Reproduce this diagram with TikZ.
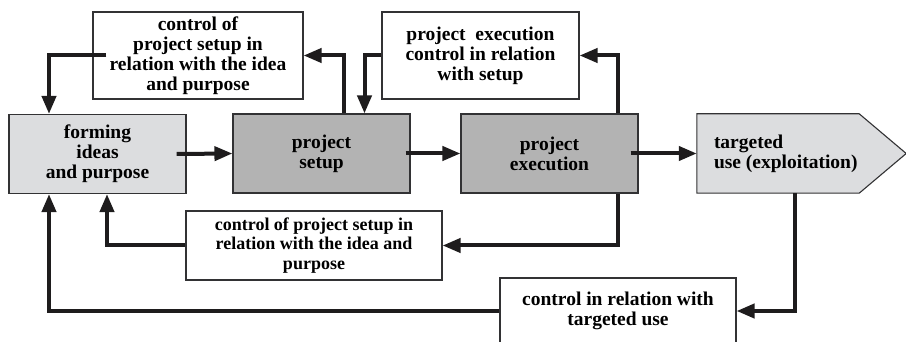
\documentclass[tikz,border=0pt]{standalone}
\usepackage{fontspec}
\setmainfont{Liberation Serif}
\usetikzlibrary{arrows.meta}
\definecolor{lightg}{RGB}{220,221,223}
\definecolor{darkg}{RGB}{179,179,179}
\definecolor{ink}{RGB}{30,28,29}
\definecolor{boxc}{RGB}{50,50,52}
\begin{document}
\begin{tikzpicture}[x=1pt,y=-1pt,
  txt/.style={inner sep=0pt, align=center, font=\bfseries\fontsize{19.5pt}{20pt}\selectfont},
  smalltxt/.style={font=\bfseries\fontsize{18pt}{19.5pt}\selectfont},
  box/.style={txt, draw=boxc, line width=1.1pt, fill=white},
  conn/.style={draw=ink, line width=4pt, line join=miter, -{Triangle[length=18pt,width=14pt]}}]
\useasboundingbox (0,0) rectangle (906,342);
\clip (0,0) rectangle (906,342);
% main boxes
\node[box, fill=lightg, minimum width=177pt, minimum height=79pt] (A) at (97.5,154) {forming\\ideas\\and purpose};
\node[box, fill=darkg, minimum width=177pt, minimum height=79pt] (B) at (321.5,153.5) {project\\setup};
\node[box, fill=darkg, minimum width=177pt, minimum height=79pt] (C) at (549.5,153.5) {project\\execution};
\node[inner sep=0pt, minimum width=162pt, minimum height=79pt] (D) at (778,153.5) {};
\draw[draw=boxc, line width=1.1pt, fill=lightg] (D.north west) -- (D.north east) -- ([xshift=47pt]D.east) -- (D.south east) -- (D.south west) -- cycle;
\node[txt, anchor=west, align=left] (Dt) at ([xshift=17pt]D.west) {targeted\\use (exploitation)};
% control boxes
\node[box, minimum width=210pt, minimum height=87pt] (T1) at (198,55.5) {control of\\project setup in\\relation with the idea\\and purpose};
\node[box, minimum width=197pt, minimum height=87pt] (T2) at (480.5,55.5) {project~~execution\\control in relation\\with setup};
\node[box, smalltxt, minimum width=256pt, minimum height=69pt] (T3) at (314,245.5) {control of project setup in\\relation with the idea and\\purpose};
\node[box, minimum width=236pt, minimum height=66pt] (T4) at (618,311) {control in relation with\\targeted use};
% connectors
\draw[conn] ([xshift=-10pt]A.east) -- (B.west);
\draw[conn] ([xshift=-5pt]B.east) -- (C.west);
\draw[conn] ([xshift=-8pt]C.east) -- (D.west);
\draw[conn] ([xshift=22.5pt]B.north) |- (T1.east);
\draw[conn] ([xshift=14pt]T1.west) -| ([xshift=-48.5pt]A.north);
\draw[conn] (T2.west) -| ([xshift=43pt]B.north);
\draw[conn] ([xshift=68.5pt]C.north) |- (T2.east);
\draw[conn] ([xshift=68.5pt]C.south) |- (T3.east);
\draw[conn] (T3.west) -| ([xshift=9.5pt]A.south);
\draw[conn] ([xshift=17pt]D.south) |- (T4.east);
\draw[conn] (T4.west) -| ([xshift=-48.5pt]A.south);
\end{tikzpicture}
\end{document}
